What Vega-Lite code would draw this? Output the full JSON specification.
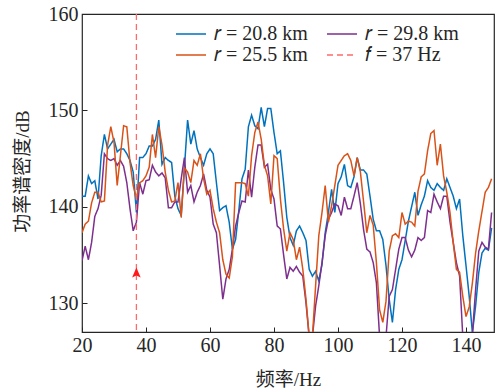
{
  "$schema": "https://vega.github.io/schema/vega-lite/v6.json",
  "width": 412,
  "height": 318,
  "autosize": {"type": "none"},
  "padding": {"left": 82, "top": 14, "right": 3, "bottom": 59},
  "background": "white",
  "config": {
    "view": {"stroke": "#262626", "strokeWidth": 1.2},
    "axis": {
      "grid": false,
      "domain": false,
      "labelFlush": false,
      "tickColor": "#262626",
      "tickSize": -5,
      "tickWidth": 1,
      "labelFont": "'Liberation Serif', 'Times New Roman', serif",
      "labelFontSize": 20,
      "labelColor": "#262626",
      "titleFont": "'Liberation Serif', 'Times New Roman', 'Noto Sans CJK SC', serif",
      "titleFontSize": 19,
      "titleFontWeight": "normal",
      "titleColor": "#262626"
    }
  },
  "datasets": {
    "psd": [
      {"f":20,"A":141.1,"C":137.3,"B":134.4},{"f":21,"A":141.1,"C":138.2,"B":135.9},{"f":22,"A":143.2,"C":138.5,"B":134.5},{"f":23,"A":142.4,"C":140.4,"B":136.3},{"f":24,"A":142.7,"C":141.5,"B":139},{"f":25,"A":140.8,"C":141.5,"B":139.8},{"f":26,"A":145.3,"C":140.5,"B":141.2},{"f":27,"A":147.5,"C":140.6,"B":145.5},{"f":28,"A":146,"C":146.4,"B":145},{"f":29,"A":146.5,"C":148.3,"B":144.8},
      {"f":30,"A":147,"C":146.7,"B":145},{"f":31,"A":145.7,"C":142.2,"B":144.3},{"f":32,"A":146,"C":145.3,"B":144.8},{"f":33,"A":146,"C":148.4,"B":144.2},{"f":34,"A":145.5,"C":148.3,"B":142.5},{"f":35,"A":144.8,"C":144.6,"B":139.8},{"f":36,"A":143.6,"C":142.2,"B":137.5},{"f":37,"A":139.4,"C":140.8,"B":138.4},{"f":38,"A":145.1,"C":142.5,"B":142.5},{"f":39,"A":145.1,"C":142.7,"B":141.3},
      {"f":40,"A":145.5,"C":143.2,"B":142.7},{"f":41,"A":146.3,"C":144.1,"B":142.8},{"f":42,"A":146.3,"C":147.5,"B":144.3},{"f":43,"A":147,"C":145.1,"B":143.6},{"f":44,"A":149,"C":148.3,"B":143.2},{"f":45,"A":144.4,"C":146.4,"B":143.5},{"f":46,"A":145.1,"C":143.6,"B":143},{"f":47,"A":144.8,"C":141.7,"B":139.9},{"f":48,"A":144.6,"C":140.5,"B":139.9},{"f":49,"A":141.1,"C":140.6,"B":140.5},
      {"f":50,"A":139.8,"C":142.5,"B":140.5},{"f":51,"A":139.1,"C":138.9,"B":142.9},{"f":52,"A":144,"C":144,"B":145.1},{"f":53,"A":149,"C":143.6,"B":141.5},{"f":54,"A":146.5,"C":142.5,"B":142.2},{"f":55,"A":147.9,"C":144.8,"B":140.5},{"f":56,"A":146,"C":144.3,"B":141.5},{"f":57,"A":145.1,"C":145.5,"B":142.2},{"f":58,"A":144.3,"C":142.9,"B":143.4},{"f":59,"A":145.5,"C":141.3,"B":141.7},
      {"f":60,"A":146,"C":141.7,"B":141},{"f":61,"A":145.5,"C":139.8,"B":138.2},{"f":62,"A":142.5,"C":138.4,"B":137.3},{"f":63,"A":139.6,"C":137.3,"B":133.9},{"f":64,"A":139.9,"C":134.5,"B":130.4},{"f":65,"A":140.1,"C":133,"B":132.5},{"f":66,"A":138.4,"C":132.6,"B":133.5},{"f":67,"A":135.6,"C":134.8,"B":135.6},{"f":68,"A":136.6,"C":142.5,"B":138},{"f":69,"A":139.6,"C":142.5,"B":139.4},
      {"f":70,"A":142.9,"C":142.5,"B":140.6},{"f":71,"A":143.9,"C":142.4,"B":140.5},{"f":72,"A":148.3,"C":141.1,"B":143.8},{"f":73,"A":149.5,"C":145.3,"B":141},{"f":74,"A":148.4,"C":147.7,"B":144.1},{"f":75,"A":148.1,"C":148.8,"B":146.4},{"f":76,"A":150.3,"C":147,"B":146.4},{"f":77,"A":148.3,"C":144.3,"B":144.1},{"f":78,"A":150.2,"C":143.2,"B":144.4},{"f":79,"A":150.2,"C":140.3,"B":141.8},
      {"f":80,"A":147.7,"C":145.3,"B":140.8},{"f":81,"A":145.5,"C":145,"B":138},{"f":82,"A":145.8,"C":140.8,"B":137.7},{"f":83,"A":142.5,"C":137.7,"B":135},{"f":84,"A":138.9,"C":135.4,"B":132.5},{"f":85,"A":136.8,"C":137.3,"B":133.7},{"f":86,"A":136,"C":136.6,"B":133.3},{"f":87,"A":137.5,"C":134.5,"B":133.8},{"f":88,"A":138,"C":135.8,"B":133.2},{"f":89,"A":137.3,"C":133.5,"B":132.8},
      {"f":90,"A":136.5,"C":130.4,"B":130},{"f":91,"A":133.5,"C":126.5,"B":126.5},{"f":92,"A":132.8,"C":126.5,"B":126.5},{"f":93,"A":133.3,"C":131.8,"B":129.7},{"f":94,"A":132.3,"C":137,"B":131.8},{"f":95,"A":134,"C":139.4,"B":134.2},{"f":96,"A":137.3,"C":142.2,"B":137},{"f":97,"A":139.4,"C":138.4,"B":138.7},{"f":98,"A":141.8,"C":140.1,"B":139.4},{"f":99,"A":139.4,"C":142.2,"B":140.3},
      {"f":100,"A":142.4,"C":144.3,"B":140.1},{"f":101,"A":143.1,"C":144.8,"B":139.1},{"f":102,"A":144.4,"C":145.3,"B":141},{"f":103,"A":142.2,"C":145.5,"B":139.8},{"f":104,"A":142,"C":144.8,"B":139.8},{"f":105,"A":143.1,"C":143.2,"B":141.1},{"f":106,"A":145.1,"C":145.1,"B":142.5},{"f":107,"A":143.8,"C":143.6,"B":140.3},{"f":108,"A":143.8,"C":140.5,"B":137.6},{"f":109,"A":143.4,"C":137.3,"B":135.6},
      {"f":110,"A":141.1,"C":139.1,"B":135.3},{"f":111,"A":138.7,"C":138.1,"B":134.2},{"f":112,"A":137.5,"C":134.2,"B":132.1},{"f":113,"A":137.5,"C":129.3,"B":126.5},{"f":114,"A":136.6,"C":128,"B":126.5},{"f":115,"A":133.9,"C":130.2,"B":126.5},{"f":116,"A":130.4,"C":135.4,"B":130.7},{"f":117,"A":128,"C":137,"B":131.4},{"f":118,"A":131.4,"C":137.2,"B":133.5},{"f":119,"A":133.5,"C":136.8,"B":135.6},
      {"f":120,"A":134.5,"C":139.4,"B":136.8},{"f":121,"A":136.5,"C":138.2,"B":136.8},{"f":122,"A":138.5,"C":138.5,"B":135.5},{"f":123,"A":140,"C":138.4,"B":134.8},{"f":124,"A":141.5,"C":138,"B":135.5},{"f":125,"A":139.1,"C":141.6,"B":136.8},{"f":126,"A":140.2,"C":143.1,"B":136.5},{"f":127,"A":141.1,"C":143.4,"B":136.8},{"f":128,"A":142.7,"C":145.8,"B":139.6},{"f":129,"A":142,"C":147.6,"B":139.4},
      {"f":130,"A":141.7,"C":147.9,"B":141.3},{"f":131,"A":142.4,"C":144.3,"B":140.5},{"f":132,"A":142,"C":146.5,"B":139.8},{"f":133,"A":141.7,"C":143.2,"B":141.1},{"f":134,"A":142.9,"C":141.5,"B":141.1},{"f":135,"A":142,"C":139.4,"B":138.4},{"f":136,"A":141.1,"C":136.3,"B":136.3},{"f":137,"A":139.8,"C":133.5,"B":134.2},{"f":138,"A":140.8,"C":133.2,"B":132.8},{"f":139,"A":137,"C":130.7,"B":126.5},
      {"f":140,"A":133.9,"C":128.6,"B":126.5},{"f":141,"A":130.7,"C":129.6,"B":126.5},{"f":142,"A":126.9,"C":132.1,"B":126.8},{"f":143,"A":129.7,"C":135.2,"B":131.4},{"f":144,"A":133.2,"C":137.5,"B":135.4},{"f":145,"A":135.2,"C":139.5,"B":136.3},{"f":146,"A":135.7,"C":141.5,"B":135.8},{"f":147,"A":135.5,"C":142,"B":135.6},{"f":148,"A":137.8,"C":142.9,"B":139.4}
    ],
    "marker": [{"f": 37, "s": "D", "v": 133.1}]
  },
  "layer": [
    {
      "data": {"name": "psd"},
      "transform": [{"fold": ["A", "B", "C"], "as": ["s", "v"]}],
      "mark": {"type": "line", "strokeWidth": 1.5, "clip": true},
      "encoding": {
        "x": {"field": "f", "type": "quantitative", "scale": {"domain": [20, 148.75], "nice": false, "zero": false},
              "axis": {"values": [20, 40, 60, 80, 100, 120, 140], "title": "频率/Hz", "labelPadding": 8, "titlePadding": 15}},
        "y": {"field": "v", "type": "quantitative", "scale": {"domain": [127, 160], "nice": false, "zero": false},
              "axis": {"values": [130, 140, 150, 160], "title": "功率谱密度/dB", "labelPadding": 9, "titleX": -60, "titleY": 157, "titleAngle": -90, "titleAlign": "center", "titleBaseline": "middle"}},
        "color": {"field": "s", "type": "nominal",
                  "scale": {"domain": ["A", "C", "B", "D"], "range": ["#0072BD", "#D95319", "#7E2F8E", "#ff6b6b"]},
                  "legend": {"title": null, "orient": "none", "legendX": 98, "legendY": 9, "columns": 2, "symbolType": "M-1.5,0H1.5", "symbolSize": 400, "symbolStrokeWidth": 1.5, "labelFont": "'Liberation Serif', 'Times New Roman', serif", "labelFontSize": 20, "labelColor": "#262626", "labelOffset": 12, "columnPadding": 16, "rowPadding": 0, "padding": 0,
                             "labelExpr": "datum.label == 'A' ? '𝑟 = 20.8 km' : datum.label == 'C' ? '𝑟 = 25.5 km' : datum.label == 'B' ? '𝑟 = 29.8 km' : '𝑓 = 37 Hz'"}},
        "strokeDash": {"field": "s", "type": "nominal",
                       "scale": {"domain": ["A", "C", "B", "D"], "range": [[1, 0], [1, 0], [1, 0], [6, 4]]}}
      }
    },
    {
      "data": {"name": "marker"},
      "mark": {"type": "rule", "strokeWidth": 1.3},
      "encoding": {
        "x": {"field": "f", "type": "quantitative", "scale": {"domain": [20, 148.75], "nice": false, "zero": false}},
        "color": {"field": "s", "type": "nominal"},
        "strokeDash": {"field": "s", "type": "nominal"}
      }
    },
    {
      "data": {"name": "marker"},
      "mark": {"type": "point", "shape": "M0,-1L0.75,0.75L0,0.4L-0.75,0.75Z", "filled": true, "color": "#ff1a1a", "opacity": 1, "size": 130},
      "encoding": {
        "x": {"field": "f", "type": "quantitative", "scale": {"domain": [20, 148.75], "nice": false, "zero": false}},
        "y": {"field": "v", "type": "quantitative", "scale": {"domain": [127, 160], "nice": false, "zero": false}}
      }
    }
  ]
}
